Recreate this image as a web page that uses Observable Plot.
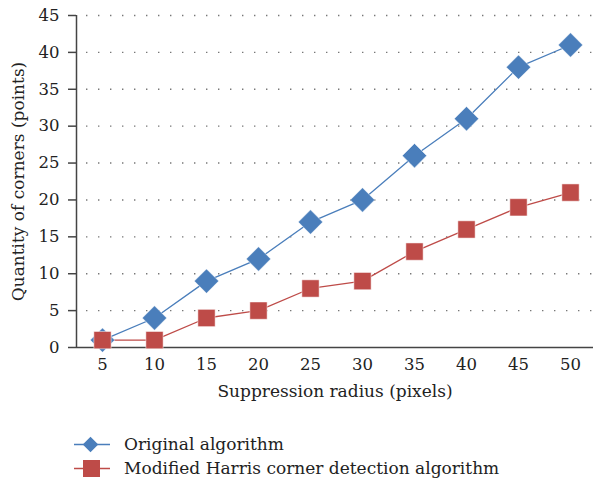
<!DOCTYPE html>
<html>
<head>
<meta charset="utf-8">
<script src="https://cdn.jsdelivr.net/npm/d3@7"></script>
<script src="https://cdn.jsdelivr.net/npm/@observablehq/plot@0.6"></script>
<style>
  html, body { margin: 0; padding: 0; background: #fff; }
  body { width: 593px; font-family: "DejaVu Serif", "Liberation Serif", serif; color: #222; }
  #legend { position: relative; height: 72px; }
  .item { position: absolute; left: 74px; display: flex; align-items: center; font-size: 17px; line-height: 20px; }
  .item svg { margin-right: 14px; }
</style>
</head>
<body>
<div id="chart"></div>
<div id="legend"></div>
<script>
const radii = [5, 10, 15, 20, 25, 30, 35, 40, 45, 50];
const original = [1, 4, 9, 12, 17, 20, 26, 31, 38, 41];
const modified = [1, 1, 4, 5, 8, 9, 13, 16, 19, 21];
const yTicks = [0, 5, 10, 15, 20, 25, 30, 35, 40, 45];
const seriesNames = ["Original algorithm", "Modified Harris corner detection algorithm"];
const colors = ["#4a7ebb", "#be4b48"];
const xLabel = "Suppression radius (pixels)";
const yLabel = "Quantity of corners (points)";

const origRows = radii.map((r, i) => ({r, v: original[i], s: seriesNames[0]}));
const modRows = radii.map((r, i) => ({r, v: modified[i], s: seriesNames[1]}));

const chart = Plot.plot({
  width: 593,
  height: 415,
  marginTop: 15,
  marginLeft: 76,
  marginRight: 0,
  marginBottom: 68,
  style: {fontFamily: "DejaVu Serif, Liberation Serif, serif", fontSize: "16px", color: "#222", background: "#fff", overflow: "visible"},
  x: {type: "linear", domain: [2.5, 52.5], range: [76, 596], label: null},
  y: {domain: [0, 45], range: [347, 15], label: null},
  marks: [
    Plot.ruleY(yTicks.filter(t => t > 0), {x1: 2.5, x2: 52.5, stroke: "#777", strokeWidth: 1.4, strokeDasharray: "1.4,10.6", strokeDashoffset: -10}),
    Plot.axisY({ticks: yTicks, tickSize: 8, tickPadding: 9, fontSize: 16.5, stroke: "#444", strokeWidth: 1.5}),
    Plot.axisX({ticks: radii, tickSize: 0, tickPadding: 11, fontSize: 16.5}),
    Plot.ruleX([2.5], {y1: 0, y2: 45, stroke: "#444", strokeWidth: 1.5}),
    Plot.ruleY([0], {x1: 2.5, x2: 52.5, stroke: "#444", strokeWidth: 1.5}),
    Plot.line(origRows, {x: "r", y: "v", stroke: colors[0], strokeWidth: 1.3}),
    Plot.line(modRows, {x: "r", y: "v", stroke: colors[1], strokeWidth: 1.3}),
    Plot.dot(origRows, {x: "r", y: "v", symbol: "diamond2", r: 11, fill: colors[0], stroke: "#fff", strokeWidth: 0.5}),
    Plot.dot(modRows, {x: "r", y: "v", symbol: "square2", r: 11, fill: colors[1], stroke: "#fff", strokeWidth: 0.5}),
    Plot.text([xLabel], {frameAnchor: "bottom", dy: 49, fontSize: 17, fill: "#222"}),
    Plot.text([yLabel], {frameAnchor: "left", dx: -58, rotate: -90, textAnchor: "middle", fontSize: 17, fill: "#222"})
  ]
});
document.getElementById("chart").append(chart);

const legend = document.getElementById("legend");
seriesNames.forEach((name, i) => {
  const div = document.createElement("div");
  div.className = "item";
  div.style.top = (i === 0 ? 19 : 43) + "px";
  const mk = i === 0
    ? `<rect x="11" y="4" width="11" height="11" transform="rotate(45 16.5 9.5)" fill="${colors[0]}"/>`
    : `<rect x="9" y="1" width="17" height="17" fill="${colors[1]}"/>`;
  div.innerHTML = `<svg width="36" height="19"><line x1="0" x2="36" y1="9.5" y2="9.5" stroke="${colors[i]}" stroke-width="1.5"/>${mk}</svg><span>${name}</span>`;
  legend.append(div);
});
</script>
</body>
</html>
